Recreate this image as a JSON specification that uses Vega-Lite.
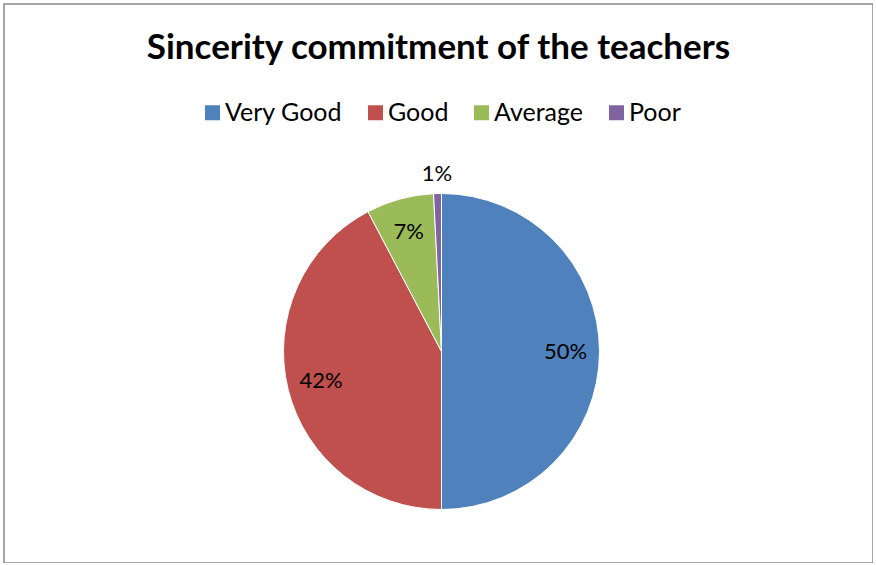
{
  "$schema": "https://vega.github.io/schema/vega-lite/v6.json",
  "width": 869,
  "height": 559,
  "autosize": {"type": "none"},
  "padding": {"left": 4, "top": 4, "right": 0, "bottom": 0},
  "background": "white",
  "view": {"stroke": "#898989", "strokeWidth": 1.5, "fill": "white"},
  "config": {"font": "Lato"},
  "title": {
    "text": "Sincerity commitment of the teachers",
    "fontSize": 35,
    "fontWeight": "bold",
    "font": "Lato",
    "color": "black",
    "anchor": "middle",
    "orient": "top",
    "offset": 0,
    "baseline": "alphabetic",
    "dy": 90
  },
  "data": {
    "values": [
      {"category": "Very Good", "value": 0.5, "order": 1},
      {"category": "Good", "value": 0.423, "order": 2},
      {"category": "Average", "value": 0.069, "order": 3},
      {"category": "Poor", "value": 0.008, "order": 4}
    ]
  },
  "encoding": {
    "theta": {"field": "value", "type": "quantitative", "stack": true},
    "order": {"field": "order", "type": "quantitative"}
  },
  "layer": [
    {
      "mark": {"type": "arc", "outerRadius": 158, "stroke": "white", "strokeWidth": 1, "x": {"expr": "width/2 + 3"}, "y": {"expr": "height/2 + 68"}},
      "encoding": {
        "color": {
          "field": "category",
          "type": "nominal",
          "scale": {"domain": ["Very Good", "Good", "Average", "Poor"], "range": ["#4F81BD", "#C0504D", "#9BBB59", "#8064A2"]},
          "legend": {
            "orient": "none",
            "legendX": 196,
            "legendY": 96,
            "direction": "horizontal",
            "columns": 4,
            "symbolType": "square",
            "symbolSize": 225,
            "symbolStrokeWidth": 0,
            "labelFontSize": 25,
            "labelFont": "Lato",
            "labelColor": "black",
            "columnPadding": 20,
            "labelOffset": 0,
            "title": null
          }
        }
      }
    },
    {
      "mark": {"type": "text", "radius": 124, "fontSize": 22, "font": "Lato", "color": "black", "x": {"expr": "width/2 + 3"}, "y": {"expr": "height/2 + 68"}},
      "encoding": {
        "detail": {"field": "category", "type": "nominal"},
        "text": {"condition": {"test": "datum.category === 'Poor'", "value": ""}, "field": "value", "type": "quantitative", "format": ".0%"}
      }
    },
    {
      "mark": {"type": "text", "radius": 178, "fontSize": 22, "font": "Lato", "color": "black", "x": {"expr": "width/2 + 3"}, "y": {"expr": "height/2 + 68"}},
      "encoding": {
        "detail": {"field": "category", "type": "nominal"},
        "text": {"condition": {"test": "datum.category !== 'Poor'", "value": ""}, "field": "value", "type": "quantitative", "format": ".0%"}
      }
    }
  ]
}
